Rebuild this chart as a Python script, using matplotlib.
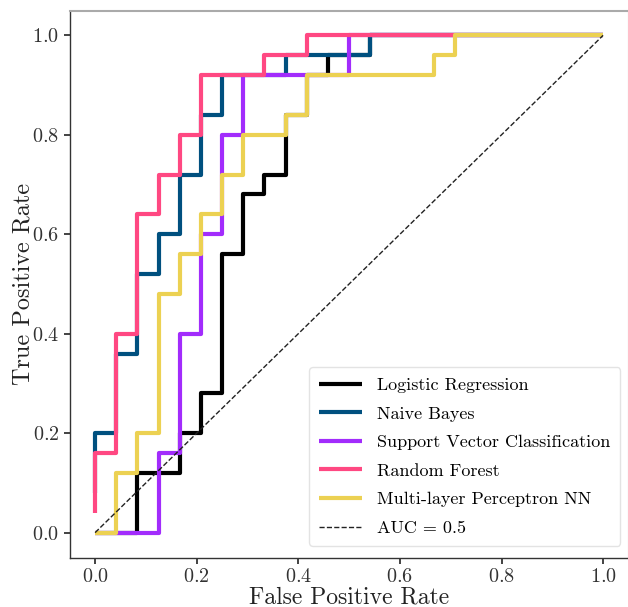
import matplotlib
matplotlib.use("Agg")
import matplotlib.pyplot as plt
import numpy as np

plt.rcParams['font.family'] = ['cmr10', 'DejaVu Serif']
plt.rcParams['mathtext.fontset'] = 'cm'
plt.rcParams['axes.formatter.use_mathtext'] = True

N_NEG = 24
N_POS = 25

labels = ["Logistic Regression", "Naive Bayes", "Support Vector Classification",
          "Random Forest", "Multi-layer Perceptron NN"]
colors = ["#000000", "#00507f", "#a22cfc", "#ff4882", "#ecd152"]

# ROC corner points as counts (false positives out of 24, true positives out of 25)
lr_fp = [0, 2, 2, 4, 4, 5, 5, 6, 6, 7, 7, 8, 8, 9, 9, 10, 10, 11, 11, 13, 13, 24]
lr_tp = [0, 0, 3, 3, 5, 5, 7, 7, 14, 14, 17, 17, 18, 18, 21, 21, 23, 23, 24, 24, 25, 25]

nb_fp = [0, 0, 1, 1, 2, 2, 3, 3, 4, 4, 5, 5, 6, 6, 9, 9, 13, 13, 24]
nb_tp = [2, 5, 5, 9, 9, 13, 13, 15, 15, 18, 18, 21, 21, 23, 23, 24, 24, 25, 25]

svc_fp = [0, 3, 3, 4, 4, 5, 5, 6, 6, 7, 7, 12, 12, 24]
svc_tp = [0, 0, 4, 4, 10, 10, 15, 15, 20, 20, 23, 23, 25, 25]

rf_fp = [0, 0, 1, 1, 2, 2, 3, 3, 4, 4, 5, 5, 8, 8, 10, 10, 24]
rf_tp = [1, 4, 4, 10, 10, 16, 16, 18, 18, 20, 20, 23, 23, 24, 24, 25, 25]

mlp_fp = [0, 1, 1, 2, 2, 3, 3, 4, 4, 5, 5, 6, 6, 7, 7, 9, 9, 10, 10, 16, 16, 17, 17, 24]
mlp_tp = [0, 0, 3, 3, 5, 5, 12, 12, 14, 14, 16, 16, 18, 18, 20, 20, 21, 21, 23, 23, 24, 24, 25, 25]

series = [(lr_fp, lr_tp), (nb_fp, nb_tp), (svc_fp, svc_tp), (rf_fp, rf_tp), (mlp_fp, mlp_tp)]

chance_x = [0, 1]
chance_y = [0, 1]

fig = plt.figure(figsize=(6.28, 6.07), dpi=100)
W, H = 628, 607
ax = fig.add_axes([69.7 / W, 1 - 557.5 / H, (628.5 - 69.7) / W, (557.5 - 10.5) / H])

for (fp, tp), lab, c in zip(series, labels, colors):
    ax.plot(np.array(fp) / N_NEG, np.array(tp) / N_POS, color=c, lw=3, label=lab,
            solid_capstyle='butt')
ax.plot(chance_x, chance_y, color="#222222", lw=1, ls='--', label="AUC = 0.5")

ax.set_xlim(-0.05, 1.05)
ax.set_ylim(-0.05, 1.05)
ax.set_xticks([0, 0.2, 0.4, 0.6, 0.8, 1.0])
ax.set_yticks([0, 0.2, 0.4, 0.6, 0.8, 1.0])
ax.tick_params(direction='out', length=4, width=1.2, labelsize=14.5, color='#222222', labelcolor='#333333')
ax.set_xlabel("False Positive Rate", fontsize=17, color='#222222', labelpad=0)
ax.set_ylabel("True Positive Rate", fontsize=17.5, color='#222222', labelpad=-1.5)

for s in ['left', 'bottom']:
    ax.spines[s].set_color('#333333')
    ax.spines[s].set_linewidth(1.0)
for s in ['top', 'right']:
    ax.spines[s].set_color('#aaaaaa')
    ax.spines[s].set_linewidth(1.5)

leg = ax.legend(loc='lower right', fontsize=13, frameon=True, fancybox=True,
                handlelength=2.4, borderpad=0.55, labelspacing=0.72,
                borderaxespad=0, bbox_to_anchor=(0.985, 0.021))
leg.get_frame().set_edgecolor('#dddddd')

fig.savefig("out.png", dpi=100)
